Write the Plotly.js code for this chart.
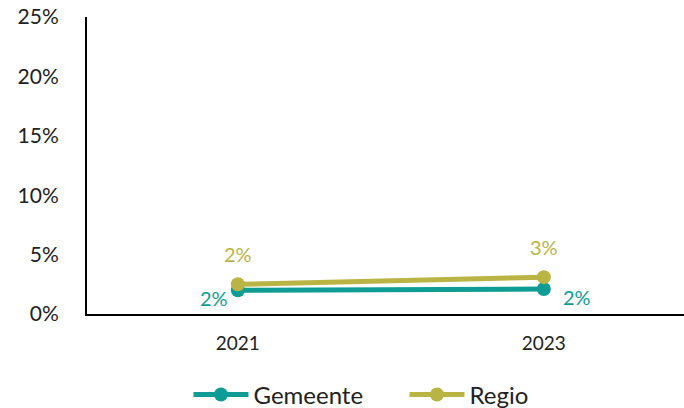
<!DOCTYPE html>
<html><head><meta charset="utf-8">
<script src="https://cdn.plot.ly/plotly-3.0.1.min.js"></script>
<style>html,body{margin:0;padding:0;background:#fff;}#chart{width:684px;height:408px;}</style>
</head><body><div id="chart"></div>
<script>
const years = ['2021', '2023'];
const gemeente = [2.0, 2.1];
const regio = [2.5, 3.1];
const gemeenteLabels = ['2%', '2%'];
const regioLabels = ['2%', '3%'];
const yTicks = [0, 5, 10, 15, 20, 25];
const yTickText = ['0%', '5%', '10%', '15%', '20%', '25%'];

const teal = '#0F9C94';
const olive = '#BAB444';
const font = 'Lato, "Open Sans", sans-serif';

const traces = [
  {x: years, y: gemeente, name: 'Gemeente', type: 'scatter', mode: 'lines+markers',
   line: {color: teal, width: 5}, marker: {color: teal, size: 14}, hoverinfo: 'skip'},
  {x: years, y: regio, name: 'Regio', type: 'scatter', mode: 'lines+markers',
   line: {color: olive, width: 5}, marker: {color: olive, size: 14}, hoverinfo: 'skip'}
];

const annotations = [];
years.forEach((yr, i) => {
  annotations.push({xref: 'x', yref: 'y', x: i, y: regio[i], text: regioLabels[i], showarrow: false,
    yshift: 30, font: {family: font, size: 20, color: olive}});
  annotations.push({xref: 'x', yref: 'y', x: i, y: gemeente[i], text: gemeenteLabels[i], showarrow: false,
    xshift: i === 0 ? -24 : 33, yshift: -8, font: {family: font, size: 20, color: teal}});
});

const layout = {
  width: 684, height: 408,
  margin: {l: 87, r: 0, t: 17, b: 94, autoexpand: false},
  paper_bgcolor: '#fff', plot_bgcolor: '#fff',
  font: {family: font, color: '#222'},
  showlegend: true,
  legend: {orientation: 'h', x: 0.17, xanchor: 'left', yref: 'container', y: 0.032, yanchor: 'middle',
           font: {family: font, size: 24, color: '#222'}, itemwidth: 55,
           entrywidth: 146, entrywidthmode: 'pixels', traceorder: 'normal'},
  xaxis: {type: 'category', range: [-0.493, 1.458], showgrid: false, zeroline: false,
          showline: true, linecolor: '#000', linewidth: 2, ticks: '', automargin: false,
          ticklabelstandoff: 11, tickfont: {family: font, size: 19, color: '#222'}, fixedrange: true},
  yaxis: {range: [0, 25], tickvals: yTicks, ticktext: yTickText, showgrid: false, zeroline: false,
          showline: true, linecolor: '#000', linewidth: 2, ticks: '', automargin: false,
          ticklabelstandoff: 22, tickfont: {family: font, size: 21, color: '#222'}, fixedrange: true},
  annotations: annotations
};

Plotly.newPlot('chart', traces, layout, {displayModeBar: false, staticPlot: true});
</script></body></html>
